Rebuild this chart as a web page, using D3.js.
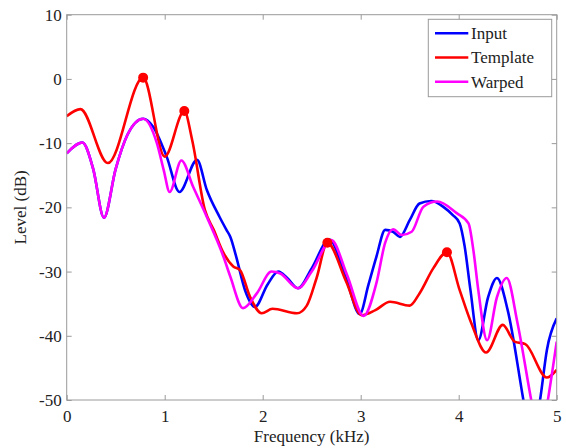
<!DOCTYPE html>
<html>
<head>
<meta charset="utf-8">
<script src="https://cdn.jsdelivr.net/npm/d3@7"></script>
<style>
  body { margin: 0; background: #fff; }
  text { font-family: "Liberation Serif", "Times New Roman", serif; fill: #222; }
</style>
</head>
<body>
<div id="chart_div"></div>
<script>
//frequency (kHz) and level (dB) for each curve
var inputFreq = [0, 0.16, 0.27, 0.38, 0.5, 0.62, 0.78, 0.88, 1.02, 1.15, 1.33, 1.43, 1.56, 1.63, 1.67, 1.73, 1.82, 1.92, 2.05, 2.16, 2.25, 2.36, 2.5, 2.68, 2.85, 2.99, 3.08, 3.16, 3.25, 3.33, 3.4, 3.5, 3.6, 3.72, 3.85, 3.94, 4.01, 4.06, 4.12, 4.2, 4.3, 4.39, 4.5, 4.66, 4.74, 4.83, 4.9, 5.0];
var inputLevel = [-11.6, -9.9, -14, -21.6, -14, -8.7, -6.2, -7.4, -12.1, -17.6, -12.6, -17.3, -21.5, -23.5, -24.6, -27.7, -32.9, -35.5, -32, -30.0, -31, -32.6, -29.5, -25.0, -31, -36.6, -32, -27.7, -23.5, -23.8, -24.6, -22.0, -19.4, -19.0, -20, -21.2, -22.5, -26, -32.9, -40.7, -34, -31.0, -36, -50, -57, -50, -42.2, -37.3];

var templateFreq = [0, 0.14, 0.42, 0.78, 1.0, 1.2, 1.28, 1.41, 1.5, 1.6, 1.7, 1.77, 1.87, 1.99, 2.1, 2.35, 2.45, 2.55, 2.66, 2.85, 3.01, 3.15, 3.3, 3.5, 3.6, 3.74, 3.88, 4.01, 4.13, 4.28, 4.45, 4.57, 4.68, 4.9, 5.0];
var templateLevel = [-5.8, -4.7, -13.1, 0.2, -12.1, -5.0, -9.5, -20.4, -23.5, -27.1, -29.2, -29.8, -33.9, -36.5, -35.8, -36.5, -35.3, -31, -25.5, -31.5, -36.8, -36, -34.7, -35.3, -33.4, -29.5, -27.0, -32.9, -38.1, -42.6, -38.3, -40.9, -41.3, -46.5, -45.3];

var warpedFreq = [0, 0.16, 0.27, 0.38, 0.5, 0.62, 0.78, 0.92, 0.99, 1.05, 1.17, 1.29, 1.43, 1.6, 1.67, 1.8, 1.94, 2.09, 2.18, 2.36, 2.5, 2.7, 2.86, 3.03, 3.16, 3.25, 3.33, 3.42, 3.52, 3.64, 3.78, 3.98, 4.1, 4.15, 4.2, 4.29, 4.39, 4.49, 4.6, 4.74, 4.83, 4.91, 5.0];
var warpedLevel = [-11.6, -9.9, -14, -21.6, -14, -8.7, -6.2, -10.0, -14.2, -17.6, -12.7, -16.8, -21.5, -27.7, -30.8, -35.7, -33.4, -30.0, -30.3, -32.6, -30.0, -25.1, -30.5, -36.9, -31.8, -25.5, -23.4, -24.3, -23.8, -19.9, -19.1, -20.9, -22.5, -26.7, -32.9, -40.7, -34, -31.0, -38, -50, -57, -50, -40.9];

//template peak markers
var peakFreq = [0.78, 1.2, 2.66, 3.88];
var peakLevel = [0.2, -5.0, -25.5, -27.0];

var seriesNames = ["Input", "Template", "Warped"];
var seriesColors = ["#0000ff", "#ff0000", "#ff00ff"];

var xTicks = [0, 1, 2, 3, 4, 5];
var yTicks = [10, 0, -10, -20, -30, -40, -50];

var width = 566;
var height = 448;
var margin = { left: 66.7, right: 9.3, top: 14.7, bottom: 48 };

var svg = d3.select("#chart_div").append("svg")
  .attr("width", width)
  .attr("height", height);

var x = d3.scaleLinear().domain([0, 5]).range([margin.left, width - margin.right]);
var y = d3.scaleLinear().domain([-50, 10]).range([height - margin.bottom, margin.top]);

//clip the curves to the axes box
svg.append("clipPath").attr("id", "plotClip")
  .append("rect")
  .attr("x", x(0)).attr("y", y(10))
  .attr("width", x(5) - x(0)).attr("height", y(-50) - y(10));

var line = d3.line()
  .x(d => x(d[0]))
  .y(d => y(d[1]))
  .curve(d3.curveMonotoneX);

var curves = [
  d3.zip(inputFreq, inputLevel),
  d3.zip(templateFreq, templateLevel),
  d3.zip(warpedFreq, warpedLevel)
];

var plot = svg.append("g").attr("clip-path", "url(#plotClip)");

curves.forEach(function (pts, i) {
  plot.append("path")
    .datum(pts)
    .attr("d", line)
    .attr("fill", "none")
    .attr("stroke", seriesColors[i])
    .attr("stroke-width", 2.6)
    .attr("stroke-linejoin", "round");
});

//peak markers
plot.selectAll(".peak")
  .data(d3.zip(peakFreq, peakLevel))
  .enter().append("circle")
  .attr("class", "peak")
  .attr("cx", d => x(d[0]))
  .attr("cy", d => y(d[1]))
  .attr("r", 5)
  .attr("fill", "#ff0000");

//axes: ticks pointing inward on all four sides
var axisColor = "#9a9a9a";
var plainFormat = d => String(d); //hyphen minus like the original

function styleAxis(g) {
  g.select(".domain").remove();
  g.selectAll(".tick line").attr("stroke", axisColor);
  g.selectAll(".tick text")
    .style("font-family", "'Liberation Serif', serif")
    .style("font-size", "17px")
    .attr("fill", "#222");
}

svg.append("g")
  .attr("transform", `translate(0,${y(-50)})`)
  .call(d3.axisBottom(x).tickValues(xTicks).tickFormat(plainFormat).tickSizeInner(-5).tickPadding(10))
  .call(styleAxis);

svg.append("g")
  .attr("transform", `translate(0,${y(10)})`)
  .call(d3.axisTop(x).tickValues(xTicks).tickFormat("").tickSizeInner(-5))
  .call(styleAxis);

svg.append("g")
  .attr("transform", `translate(${x(0)},0)`)
  .call(d3.axisLeft(y).tickValues(yTicks).tickFormat(plainFormat).tickSizeInner(-5).tickPadding(5))
  .call(styleAxis);

svg.append("g")
  .attr("transform", `translate(${x(5)},0)`)
  .call(d3.axisRight(y).tickValues(yTicks).tickFormat("").tickSizeInner(-5))
  .call(styleAxis);

//axes box
svg.append("rect")
  .attr("x", x(0)).attr("y", y(10))
  .attr("width", x(5) - x(0)).attr("height", y(-50) - y(10))
  .attr("fill", "none")
  .attr("stroke", axisColor)
  .attr("stroke-width", 1);

//axis titles
svg.append("text")
  .attr("x", (x(0) + x(5)) / 2)
  .attr("y", 442)
  .attr("text-anchor", "middle")
  .style("font-size", "17px")
  .text("Frequency (kHz)");

svg.append("text")
  .attr("transform", `translate(26,${(y(10) + y(-50)) / 2}) rotate(-90)`)
  .attr("text-anchor", "middle")
  .style("font-size", "17px")
  .text("Level (dB)");

//legend
var legend = svg.append("g");
legend.append("rect")
  .attr("x", 428.3).attr("y", 19.3)
  .attr("width", 123.4).attr("height", 77.4)
  .attr("fill", "#fff")
  .attr("stroke", axisColor);

seriesNames.forEach(function (name, i) {
  var ly = 33.3 + i * 24.2;
  legend.append("line")
    .attr("x1", 435).attr("x2", 468.3)
    .attr("y1", ly).attr("y2", ly)
    .attr("stroke", seriesColors[i])
    .attr("stroke-width", 2.6);
  legend.append("text")
    .attr("x", 471).attr("y", ly)
    .attr("dy", "0.35em")
    .style("font-size", "17px")
    .text(name);
});
</script>
</body>
</html>
